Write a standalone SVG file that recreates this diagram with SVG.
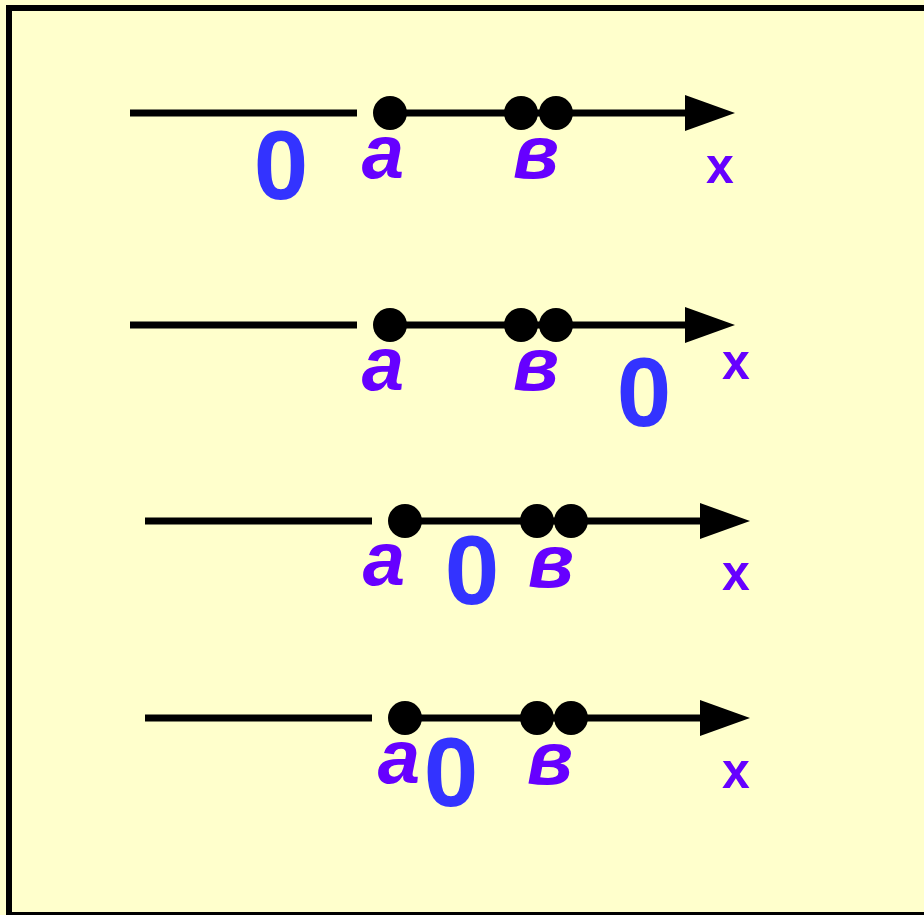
<svg xmlns="http://www.w3.org/2000/svg" width="924" height="915" viewBox="0 0 924 915">
<style>
.ln{stroke:#000;stroke-width:7;fill:none}
.dot{fill:#000}
.ah{fill:#000}
.z{font-family:"Liberation Sans",Arial,sans-serif;font-weight:bold;font-size:98px;fill:#3333FF;text-anchor:middle}
.v{font-family:"Liberation Sans",Arial,sans-serif;font-weight:bold;font-style:italic;font-size:76px;fill:#6600FF;text-anchor:middle}
.x{font-family:"Liberation Sans",Arial,sans-serif;font-weight:bold;font-size:50px;fill:#6600FF;text-anchor:middle}
</style>
<rect x="0" y="0" width="924" height="915" fill="#FFFFCC"/>
<rect x="9" y="8" width="930" height="907" fill="none" stroke="#000" stroke-width="6"/>
<g id="connectors">
<line class="ln" x1="130" y1="113" x2="357" y2="113"/>
<line class="ln" x1="390" y1="113" x2="690" y2="113"/>
<polygon class="ah" points="685,95 735,113 685,131"/>
<line class="ln" x1="130" y1="325" x2="357" y2="325"/>
<line class="ln" x1="390" y1="325" x2="690" y2="325"/>
<polygon class="ah" points="685,307 735,325 685,343"/>
<line class="ln" x1="145" y1="521" x2="372" y2="521"/>
<line class="ln" x1="405" y1="521" x2="705" y2="521"/>
<polygon class="ah" points="700,503 750,521 700,539"/>
<line class="ln" x1="145" y1="718" x2="372" y2="718"/>
<line class="ln" x1="405" y1="718" x2="705" y2="718"/>
<polygon class="ah" points="700,700 750,718 700,736"/>
</g>
<g id="row1">
<circle class="dot" cx="390" cy="113" r="17"/>
<circle class="dot" cx="521" cy="113" r="17"/>
<circle class="dot" cx="556" cy="113" r="17"/>
<text class="z" x="281" y="199">0</text>
<text class="v" x="383" y="178">a</text>
<text class="v" x="536" y="178">в</text>
<text class="x" x="720" y="183">x</text>
</g>
<g id="row2">
<circle class="dot" cx="390" cy="325" r="17"/>
<circle class="dot" cx="521" cy="325" r="17"/>
<circle class="dot" cx="556" cy="325" r="17"/>
<text class="v" x="383" y="390">a</text>
<text class="v" x="536" y="390">в</text>
<text class="z" x="644" y="426">0</text>
<text class="x" x="736" y="379">x</text>
</g>
<g id="row3">
<circle class="dot" cx="405" cy="521" r="17"/>
<circle class="dot" cx="537" cy="521" r="17"/>
<circle class="dot" cx="571" cy="521" r="17"/>
<text class="v" x="384" y="585">a</text>
<text class="z" x="472" y="604">0</text>
<text class="v" x="551" y="587">в</text>
<text class="x" x="736" y="590">x</text>
</g>
<g id="row4">
<circle class="dot" cx="405" cy="718" r="17"/>
<circle class="dot" cx="537" cy="718" r="17"/>
<circle class="dot" cx="571" cy="718" r="17"/>
<text class="v" x="399" y="783">a</text>
<text class="z" x="451" y="806">0</text>
<text class="v" x="550" y="784">в</text>
<text class="x" x="736" y="788">x</text>
</g>
</svg>
